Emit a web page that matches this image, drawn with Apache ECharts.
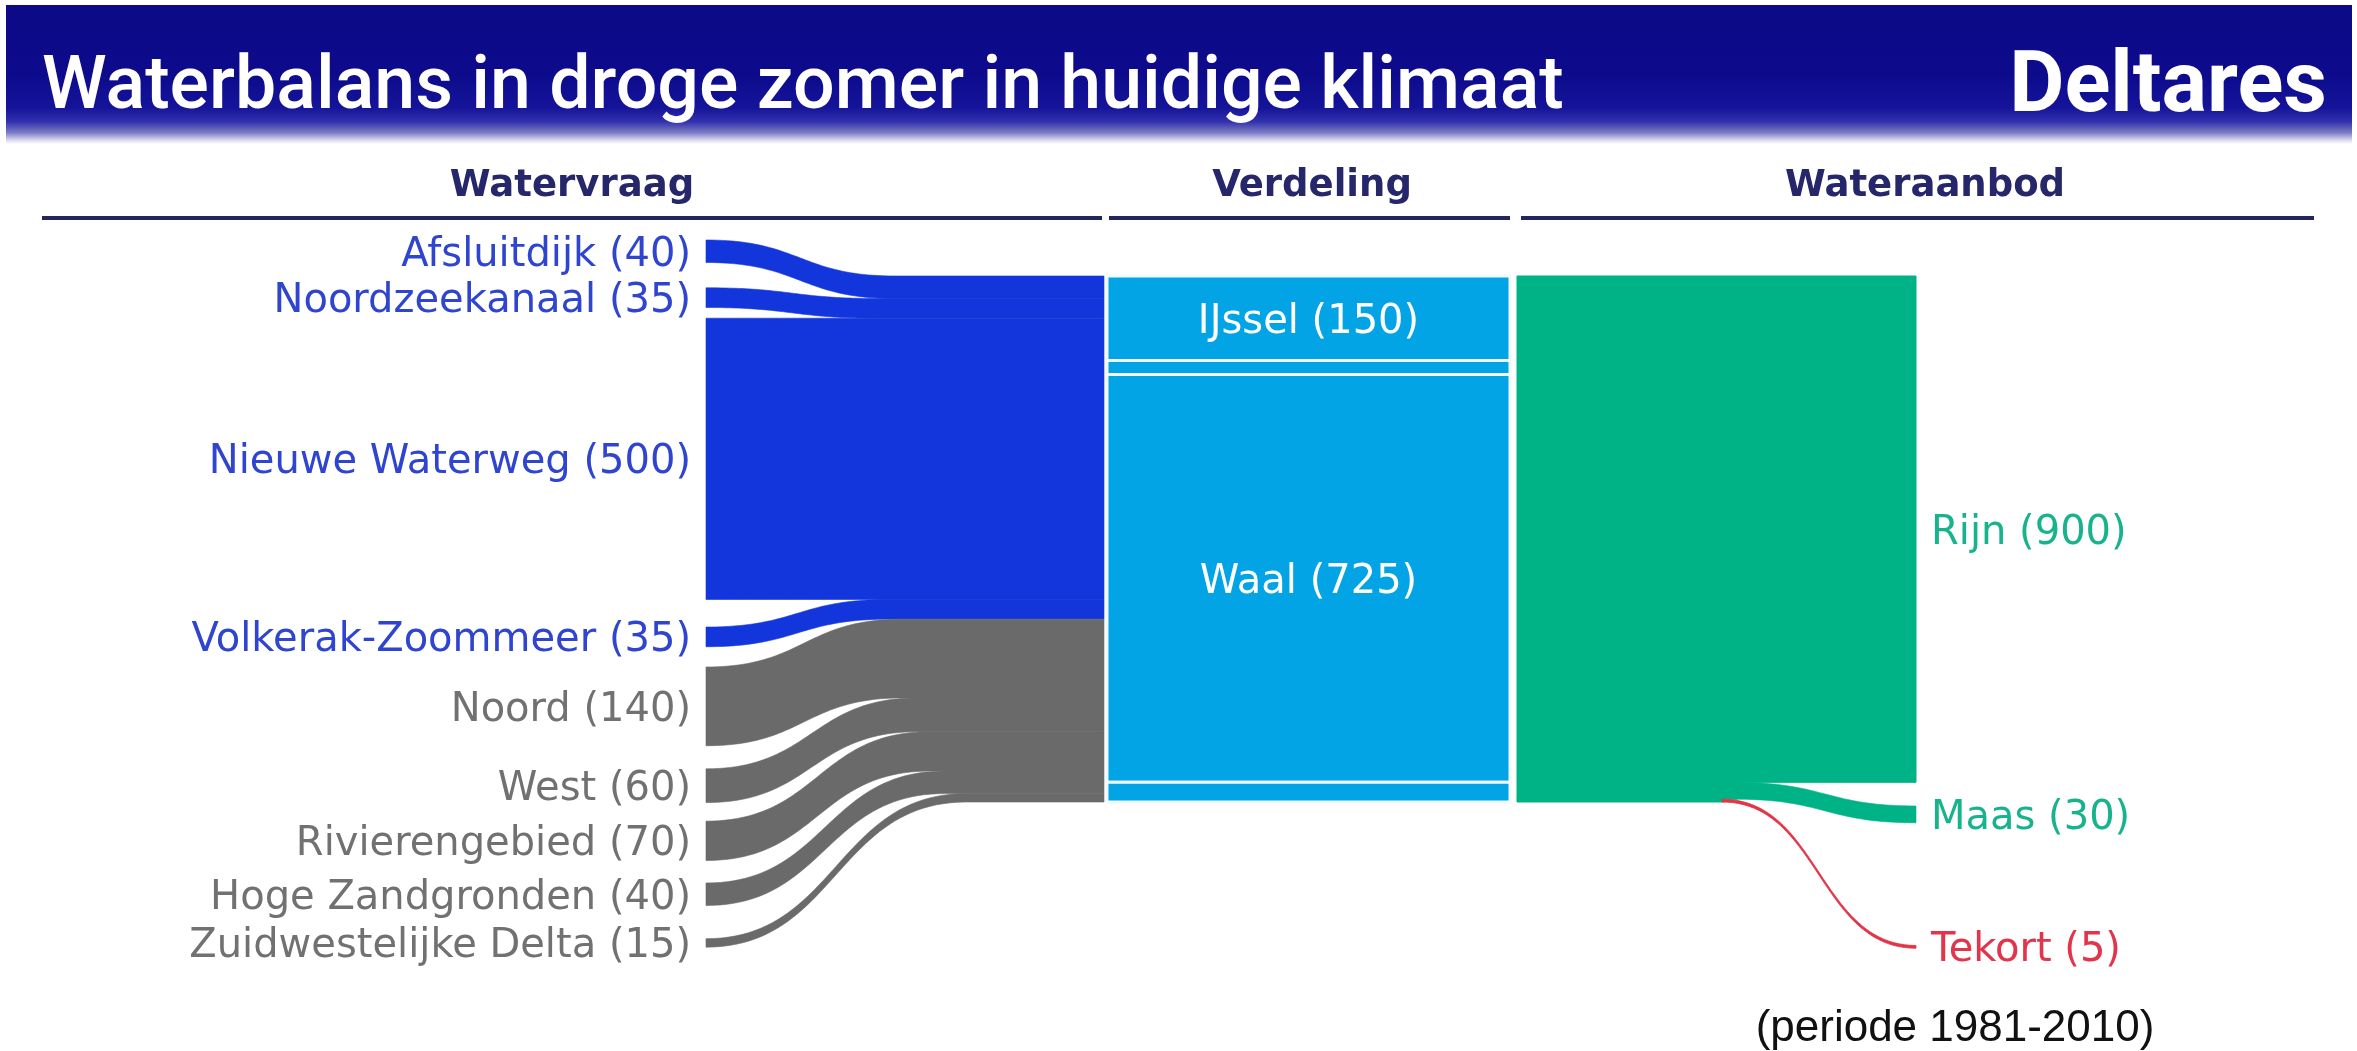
<!DOCTYPE html>
<html>
<head>
<meta charset="utf-8">
<script src="https://cdn.jsdelivr.net/npm/echarts/dist/echarts.min.js"></script>
<style>
html,body{margin:0;padding:0;background:#ffffff;}
#chart{width:2357px;height:1051px;}
</style>
</head>
<body>
<div id="chart"></div>
<script>
// ---------------- data ----------------
const titleText = 'Waterbalans in droge zomer in huidige klimaat';
const brandText = 'Deltares';
const periodText = '(periode 1981-2010)';
const columnTitles = ['Watervraag', 'Verdeling', 'Wateraanbod'];

const demandNames = ['Afsluitdijk', 'Noordzeekanaal', 'Nieuwe Waterweg', 'Volkerak-Zoommeer',
  'Noord', 'West', 'Rivierengebied', 'Hoge Zandgronden', 'Zuidwestelijke Delta'];
const demandValues = [40, 35, 500, 35, 140, 60, 70, 40, 15];
const demandGroup = ['hoofd', 'hoofd', 'hoofd', 'hoofd', 'regio', 'regio', 'regio', 'regio', 'regio'];

const distNames = ['IJssel', 'Nederrijn', 'Waal', 'Maas'];
const distValues = [150, 25, 725, 35];
const distShowLabel = [true, false, true, false];

const supplyNames = ['Rijn', 'Maas', 'Tekort'];
const supplyValues = [900, 30, 5];

// ---------------- layout (vertical in flow units, horizontal in px) ----------------
const demandGaps = [-64, 45, 19, 49, 36, 41, 33, 40, 59];   // spacing of left ends
const supplyGaps = [0, 42, 218];                            // spacing of right ends
const X = {
  demandStart: 706, demandEnd: 1104,
  distStart: 1107, distEnd: 1510,
  supplyStart: 1517, supplyEnd: 1916,
  curveStart: [null, 1735, 1722],
  curveBase: 165, curveSlope: 0.37,
  labelPad: 15, labelDy: 4
};
const COLORS = {
  hoofd: '#1336dc', regio: '#6a6a6a',
  hoofdLabel: '#2f45d0', regioLabel: '#717171',
  dist: '#03a4e6', distLine: '#f0faff',
  supply: '#00b386', supplyLabel: '#17b38c',
  tekort: '#e23445', tekortLabel: '#e2344a'
};
const LABEL_FONT = 'DejaVu Sans';

// cumulative positions
function cumulative(values) { const out = []; let s = 0; values.forEach(v => { out.push(s); s += v; }); return out; }
const demandJoin = cumulative(demandValues);
const demandLeft = [];
(function () { let y = 0; demandValues.forEach((v, i) => { y += demandGaps[i]; demandLeft.push(y); y += v; }); })();
const distTop = cumulative(distValues);
const supplySource = cumulative(supplyValues);
const supplyTarget = [];
(function () { let y = 0; supplyValues.forEach((v, i) => { y += supplyGaps[i]; supplyTarget.push(y); y += v; }); })();

function bez(x0, y0, x1, y1, n) {
  const xm = (x0 + x1) / 2, out = [];
  for (let i = 0; i <= n; i++) {
    const t = i / n, u = 1 - t;
    const x = u * u * u * x0 + 3 * u * u * t * xm + 3 * u * t * t * xm + t * t * t * x1;
    const y = u * u * u * y0 + 3 * u * u * t * y0 + 3 * u * t * t * y1 + t * t * t * y1;
    out.push([x, y]);
  }
  return out;
}
function toPx(api, pts) { return pts.map(p => api.coord(p)); }

const chart = echarts.init(document.getElementById('chart'), null, { renderer: 'canvas' });

const demandSeries = {
  type: 'custom', coordinateSystem: 'cartesian2d', clip: false, silent: true,
  data: demandValues.map((v, i) => [i, v]),
  renderItem: function (params, api) {
    const i = api.value(0), v = api.value(1);
    const yl = demandLeft[i], yj = demandJoin[i];
    const d = yl - yj;
    const x0 = X.demandStart, x1 = X.demandStart + X.curveBase + X.curveSlope * Math.abs(d), xe = X.demandEnd;
    let pts = bez(x0, yl, x1, yj, 48);
    pts.push([xe, yj]); pts.push([xe, yj + v]);
    pts = pts.concat(bez(x0, yl + v, x1, yj + v, 48).reverse());
    const color = COLORS[demandGroup[i]];
    const lp = api.coord([x0 - X.labelPad, yl + v / 2]);
    return {
      type: 'group',
      children: [
        { type: 'polygon', shape: { points: toPx(api, pts) }, style: { fill: color, stroke: color, lineWidth: 0.6 } },
        { type: 'text', x: lp[0], y: lp[1] + X.labelDy, style: {
          text: demandNames[i] + ' (' + v + ')', fill: COLORS[demandGroup[i] + 'Label'],
          fontSize: 40, fontFamily: LABEL_FONT, align: 'right', verticalAlign: 'middle' } }
      ]
    };
  }
};

const distSeries = {
  type: 'custom', coordinateSystem: 'cartesian2d', clip: false, silent: true,
  data: distValues.map((v, i) => [i, v]),
  renderItem: function (params, api) {
    const i = api.value(0), v = api.value(1);
    const p0 = api.coord([X.distStart, distTop[i]]);
    const p1 = api.coord([X.distEnd, distTop[i] + v]);
    const children = [
      { type: 'rect', shape: { x: p0[0], y: p0[1], width: p1[0] - p0[0], height: p1[1] - p0[1] },
        style: { fill: COLORS.dist, stroke: COLORS.distLine, lineWidth: 3 } }
    ];
    if (distShowLabel[i]) {
      const c = api.coord([(X.distStart + X.distEnd) / 2, distTop[i] + v / 2]);
      children.push({ type: 'text', x: c[0], y: c[1] + X.labelDy, style: {
        text: distNames[i] + ' (' + v + ')', fill: '#ffffff', fontSize: 40, fontFamily: LABEL_FONT,
        align: 'center', verticalAlign: 'middle' } });
    }
    return { type: 'group', children: children };
  }
};

const supplySeries = {
  type: 'custom', coordinateSystem: 'cartesian2d', clip: false, silent: true,
  data: supplyValues.map((v, i) => [i, v]),
  renderItem: function (params, api) {
    const i = api.value(0), v = api.value(1);
    const ys = supplySource[i], yt = supplyTarget[i];
    const children = [];
    const isTekort = supplyNames[i] === 'Tekort';
    const lineColor = isTekort ? COLORS.tekort : COLORS.supply;
    if (X.curveStart[i] === null) {
      const p0 = api.coord([X.supplyStart, ys]);
      const p1 = api.coord([X.supplyEnd, ys + v]);
      children.push({ type: 'rect', shape: { x: p0[0], y: p0[1], width: p1[0] - p0[0], height: p1[1] - p0[1] },
        style: { fill: COLORS.supply, stroke: COLORS.supply, lineWidth: 1 } });
    } else {
      const xc = X.curveStart[i];
      const p0 = api.coord([X.supplyStart, ys]);
      const p1 = api.coord([xc + 2, ys + v]);
      children.push({ type: 'rect', shape: { x: p0[0], y: p0[1] - 0.5, width: p1[0] - p0[0], height: p1[1] - p0[1] + 0.5 },
        style: { fill: COLORS.supply, stroke: COLORS.supply, lineWidth: 1 } });
      let pts = bez(xc, ys, X.supplyEnd, yt, 48);
      pts = pts.concat(bez(xc, ys + v, X.supplyEnd, yt + v, 48).reverse());
      children.push({ type: 'polygon', shape: { points: toPx(api, pts) },
        style: { fill: lineColor, stroke: lineColor, lineWidth: isTekort ? 0.8 : 0.6 } });
    }
    const lp = api.coord([X.supplyEnd + X.labelPad, yt + v / 2]);
    children.push({ type: 'text', x: lp[0], y: lp[1] + X.labelDy, style: {
      text: supplyNames[i] + ' (' + v + ')', fill: isTekort ? COLORS.tekortLabel : COLORS.supplyLabel,
      fontSize: 40, fontFamily: LABEL_FONT, align: 'left', verticalAlign: 'middle' } });
    return { type: 'group', children: children };
  }
};

// decorations
const headerCenters = [572, 1312, 1925];
const headerLines = [[42, 1102], [1109, 1510], [1521, 2314]];
const graphics = [
  { type: 'rect', z: 0, shape: { x: 6, y: 5, width: 2346, height: 139 }, style: {
    fill: { type: 'linear', x: 0, y: 0, x2: 0, y2: 1, colorStops: [
      { offset: 0, color: '#0c0a86' }, { offset: 0.5, color: '#0d0b8c' }, { offset: 0.74, color: '#151399' },
      { offset: 0.84, color: '#3231ad' }, { offset: 0.92, color: '#7e7dc6' }, { offset: 0.97, color: '#d6d5ee' },
      { offset: 1, color: '#ffffff' } ] } } },
  { type: 'text', z: 2, x: 42, y: 90, style: { text: titleText, fill: '#ffffff', fontSize: 73.5, fontWeight: 500,
    fontFamily: 'Roboto', align: 'left', verticalAlign: 'middle' } },
  { type: 'text', z: 2, x: 2327, y: 90, style: { text: brandText, fill: '#ffffff', fontSize: 85, fontWeight: 'bold',
    fontFamily: 'Roboto', align: 'right', verticalAlign: 'middle' } },
  { type: 'text', z: 2, x: 1955, y: 1029, style: { text: periodText, fill: '#111111', fontSize: 44,
    fontFamily: 'Liberation Sans', align: 'center', verticalAlign: 'middle' } }
];
columnTitles.forEach((t, i) => {
  graphics.push({ type: 'text', z: 2, x: headerCenters[i], y: 186, style: { text: t, fill: '#26266a', fontSize: 37,
    fontWeight: 'bold', fontFamily: LABEL_FONT, align: 'center', verticalAlign: 'middle' } });
  graphics.push({ type: 'rect', z: 2, shape: { x: headerLines[i][0], y: 216, width: headerLines[i][1] - headerLines[i][0], height: 4 },
    style: { fill: '#24245f' } });
});

const k = 526 / 935;   // px per flow unit
const yMin = -80, yMax = 1240;
chart.setOption({
  animation: false,
  backgroundColor: '#ffffff',
  grid: { left: 0, right: 0, top: 276 + yMin * k, bottom: 1051 - (276 + yMax * k) },
  xAxis: { type: 'value', min: 0, max: 2357, show: false },
  yAxis: { type: 'value', min: yMin, max: yMax, inverse: true, show: false },
  graphic: graphics,
  series: [demandSeries, distSeries, supplySeries]
});
</script>
</body>
</html>
